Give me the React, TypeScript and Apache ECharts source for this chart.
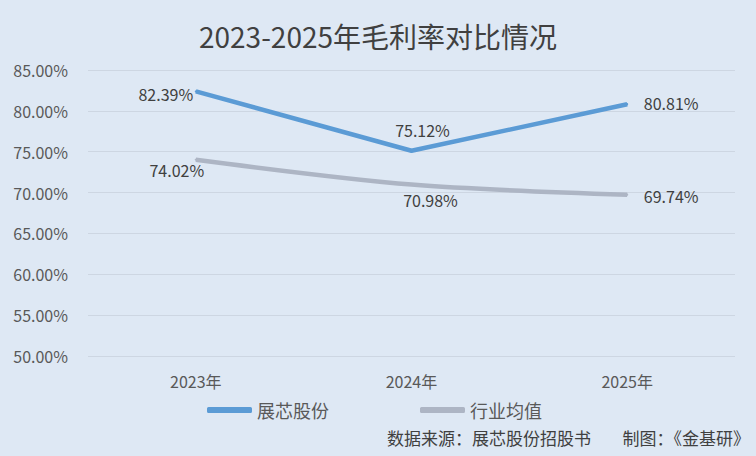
import React, { useEffect, useRef } from "react";
import * as echarts from "echarts";

const categories = ["2023年", "2024年", "2025年"];
const companyName = "展芯股份";
const industryName = "行业均值";
const companyValues = [82.39, 75.12, 80.81];
const industryValues = [74.02, 70.98, 69.74];
const companyLabelOffsets = [[-30, 3], [11, -21], [44, -1]];
const industryLabelOffsets = [[-19, 10], [19, 15], [44, 1]];
const yMin = 50;
const yMax = 85;
const yInterval = 5;
const sourceText = "数据来源：展芯股份招股书";
const madeByText = "制图：《金基研》";

const FONT = "'Noto Sans CJK SC', 'Noto Sans', sans-serif";

export default function App() {
  const ref = useRef<HTMLDivElement>(null);
  useEffect(() => {
    document.body.style.margin = "0";
    const chart = echarts.init(ref.current!, null, { renderer: "svg" });
    const mk = (vals: number[], offs: number[][]) =>
      vals.map((v, i) => ({
        value: v,
        label: { position: "inside", offset: offs[i] },
      }));
    chart.setOption({
      animation: false,
      backgroundColor: "#dee8f4",
      textStyle: { fontFamily: FONT },
      title: {
        text: "2023-2025年毛利率对比情况",
        left: "center",
        top: 17,
        textStyle: { fontSize: 28, fontWeight: "normal", color: "#404040", fontFamily: FONT },
      },
      grid: { left: 88, right: 21, top: 70, bottom: 100, containLabel: false },
      legend: {
        left: 207,
        top: 401,
        padding: 0,
        itemWidth: 45,
        itemHeight: 6,
        itemGap: 91,
        icon: "roundRect",
        textStyle: { fontSize: 18, color: "#595959", fontFamily: FONT },
        data: [companyName, industryName],
      },
      graphic: [
        {
          type: "text",
          left: 387,
          top: 429,
          style: { text: sourceText, fontSize: 17, fill: "#404040", fontFamily: FONT },
        },
        {
          type: "text",
          right: 6,
          top: 429,
          style: { text: madeByText, fontSize: 17, fill: "#404040", fontFamily: FONT },
        },
      ],
      xAxis: {
        type: "category",
        data: categories,
        boundaryGap: true,
        axisLine: { show: false },
        axisTick: { show: false },
        axisLabel: { fontSize: 16, color: "#595959", margin: 17, fontFamily: FONT },
      },
      yAxis: {
        type: "value",
        min: yMin,
        max: yMax,
        interval: yInterval,
        axisLine: { show: false },
        axisTick: { show: false },
        splitLine: { lineStyle: { color: "#cdd6e2", width: 1 } },
        axisLabel: {
          fontSize: 16,
          color: "#595959",
          margin: 20,
          fontFamily: FONT,
          formatter: (v: number) => v.toFixed(2) + "%",
        },
      },
      series: [
        {
          name: companyName,
          type: "line",
          data: mk(companyValues, companyLabelOffsets),
          symbol: "circle",
          symbolSize: 2,
          lineStyle: { color: "#5b9bd5", width: 4.5 },
          itemStyle: { color: "#5b9bd5" },
          label: {
            show: true,
            fontSize: 16,
            color: "#404040",
            fontFamily: FONT,
            formatter: (p: any) => p.value.toFixed(2) + "%",
          },
        },
        {
          name: industryName,
          type: "line",
          smooth: 0.3,
          data: mk(industryValues, industryLabelOffsets),
          symbol: "circle",
          symbolSize: 2,
          lineStyle: { color: "#adb5c4", width: 4.5 },
          itemStyle: { color: "#adb5c4" },
          label: {
            show: true,
            fontSize: 16,
            color: "#404040",
            fontFamily: FONT,
            formatter: (p: any) => p.value.toFixed(2) + "%",
          },
        },
      ],
    });
    return () => chart.dispose();
  }, []);
  return <div ref={ref} style={{ width: 756, height: 456 }} />;
}
